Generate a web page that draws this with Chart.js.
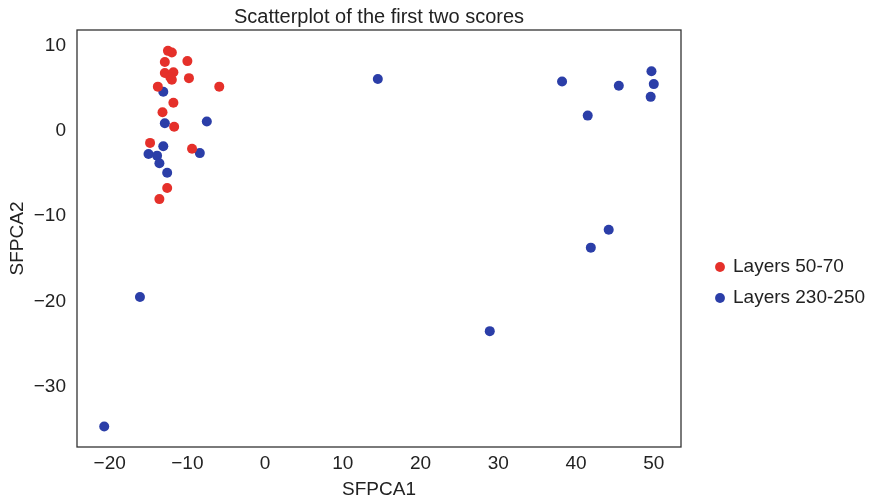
<!DOCTYPE html>
<html>
<head>
<meta charset="utf-8">
<script src="https://cdn.jsdelivr.net/npm/chart.js@4"></script>
<style>
  html, body { margin: 0; padding: 0; background: #fff; }
  #wrap { width: 882px; height: 502px; }
</style>
</head>
<body>
<div id="wrap"><canvas id="scoresChart"></canvas></div>
<script>
// scores
const layers50x = [-12.5, -12.0, -10.0, -12.9, -12.9, -11.8, -12.2, -12.0, -9.8, -13.8, -5.9, -11.8, -13.2, -11.7, -14.8, -9.4, -12.6, -13.6];
const layers50y = [9.4, 9.2, 8.2, 8.1, 6.8, 6.9, 6.3, 6.0, 6.2, 5.2, 5.2, 3.3, 2.2, 0.5, -1.4, -2.1, -6.7, -8.0];
const layers230x = [-20.7, -16.1, -13.1, -12.9, -7.5, -13.1, -15.0, -13.9, -8.4, -13.6, -12.6, 14.5, 28.9, 38.2, 41.5, 41.9, 44.2, 45.5, 49.7, 50.0, 49.6];
const layers230y = [-34.7, -19.5, 4.6, 0.9, 1.1, -1.8, -2.7, -2.9, -2.6, -3.8, -4.9, 6.1, -23.5, 5.8, 1.8, -13.7, -11.6, 5.3, 7.0, 5.5, 4.0];
const seriesNames = ['Layers 50-70', 'Layers 230-250'];
const xTicks = [-20, -10, 0, 10, 20, 30, 40, 50];
const yTicks = [-30, -20, -10, 0, 10];

const RED = '#e5302a';
const BLUE = '#2b3ea8';
const FONT = "'Liberation Sans', Arial, sans-serif";

function toPoints(xs, ys) {
  return xs.map((x, i) => ({ x: x, y: ys[i] }));
}

function minusSign(v) {
  return String(v).replace('-', '\u2212');
}

// box around the plot area, and legend placed where the original has it
const frame = {
  id: 'frame',
  afterLayout(chart) {
    const lg = chart.legend;
    lg.left = 704.5;
    lg.right = 882;
    lg.top = 245.5;
    lg.bottom = 340;
  },
  afterDatasetsDraw(chart) {
    const a = chart.chartArea;
    const ctx = chart.ctx;
    ctx.save();
    ctx.strokeStyle = '#333';
    ctx.lineWidth = 1.3;
    ctx.strokeRect(a.left, a.top, a.right - a.left, a.bottom - a.top);
    ctx.restore();
  }
};

Chart.defaults.font.family = FONT;
Chart.defaults.color = '#222';

new Chart(document.getElementById('scoresChart').getContext('2d'), {
  type: 'scatter',
  data: {
    datasets: [
      {
        label: seriesNames[0],
        data: toPoints(layers50x, layers50y),
        backgroundColor: RED,
        borderColor: RED,
        pointRadius: 5,
        borderWidth: 0
      },
      {
        label: seriesNames[1],
        data: toPoints(layers230x, layers230y),
        backgroundColor: BLUE,
        borderColor: BLUE,
        pointRadius: 5,
        borderWidth: 0
      }
    ]
  },
  options: {
    responsive: true,
    maintainAspectRatio: false,
    animation: false,
    events: [],
    layout: { padding: { left: 0, right: 201, top: 0, bottom: 0 } },
    scales: {
      x: {
        type: 'linear',
        min: -24.2,
        max: 53.5,
        grid: { display: false, drawTicks: false },
        border: { display: false },
        afterBuildTicks: (s) => { s.ticks = xTicks.map(v => ({ value: v })); },
        afterFit: (s) => { s.height = 55; },
        ticks: {
          padding: 5,
          font: { size: 19 },
          callback: (v) => minusSign(v)
        },
        title: {
          display: true,
          text: 'SFPCA1',
          font: { size: 19 },
          padding: { top: 0, bottom: 1 }
        }
      },
      y: {
        type: 'linear',
        min: -37.1,
        max: 11.85,
        grid: { display: false, drawTicks: false },
        border: { display: false },
        afterBuildTicks: (s) => { s.ticks = yTicks.map(v => ({ value: v })); },
        afterFit: (s) => { s.width = 77; },
        ticks: {
          padding: 11,
          font: { size: 19 },
          callback: (v) => minusSign(v)
        },
        title: {
          display: true,
          text: 'SFPCA2',
          font: { size: 19 },
          padding: { top: 6, bottom: 0 }
        }
      }
    },
    plugins: {
      title: {
        display: true,
        text: 'Scatterplot of the first two scores',
        fullSize: false,
        color: '#222',
        font: { size: 20, weight: 'normal' },
        padding: { top: 5, bottom: 1 }
      },
      legend: {
        position: 'chartArea',
        align: 'start',
        labels: {
          usePointStyle: true,
          pointStyle: 'circle',
          boxWidth: 7,
          boxHeight: 7,
          padding: 12,
          color: '#222',
          font: { size: 19 }
        }
      },
      tooltip: { enabled: false }
    }
  },
  plugins: [frame]
});
</script>
</body>
</html>
